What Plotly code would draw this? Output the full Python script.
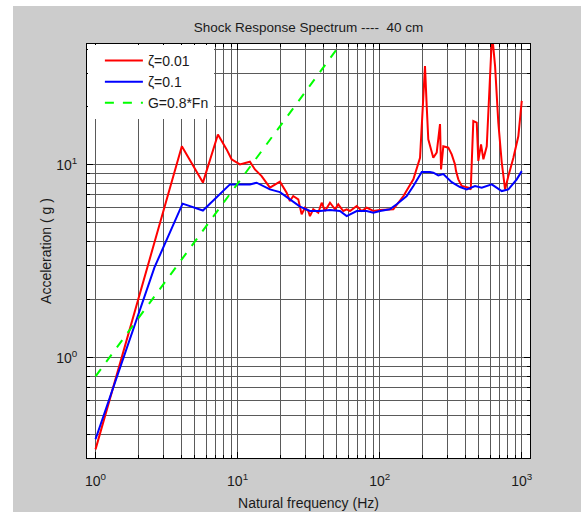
import plotly.graph_objects as go

# Shock response spectrum, 40 cm drop
fn_z001 = [1, 4.05, 5.7, 7.27, 8.37, 9.07, 10.38, 12.21, 13.24, 14.76, 16.88, 19.86,
           22.14, 23.35, 24.63, 26.73, 28.23, 29.78, 31.42, 32.3, 34.07, 36.96, 39.06,
           41.2, 44.7, 48.5, 51.1, 55.4, 58.6, 61.8, 68.9, 74.7, 81.0, 90.2, 100.5,
           111.9, 124.7, 147, 172.6, 192.3, 197.7, 208.4, 214.3, 219.8, 238.4, 251.9,
           265.9, 270.3, 280.5, 304.1, 321.3, 339, 344.6, 357.7, 377.8, 421, 437.5,
           456, 482, 494.6, 516.8, 537, 567, 598, 618, 649, 684, 723, 763, 805, 873,
           946, 1000]
acc_z001 = [0.334, 12.5, 8.1, 14.4, 12.05, 10.7, 10.07, 10.4, 9.48, 8.76, 7.63, 8.19,
            7.18, 6.5, 6.9, 6.63, 5.54, 6.0, 5.77, 5.43, 5.89, 5.65, 6.37,
            5.77, 6.37, 5.89, 6.25, 5.77, 5.89, 5.77, 6.12, 5.77, 6.0, 5.77, 5.84,
            5.89, 5.89, 6.9, 8.42, 10.9, 15.3, 32.6, 20.2, 13.6, 10.9, 11.6,
            16.3, 9.48, 12.5, 12.3, 11.35, 10.07, 9.29, 8.42, 7.78, 7.63, 7.47,
            16.9, 16.6, 10.5, 12.8, 10.7, 12.5, 30.1, 48, 32.6, 16.6, 10.3, 7.47, 8.76, 10.9,
            14.1, 21.5]

fn_z01 = [1, 2.6, 4.1, 5.7, 8.83, 12.21, 13.6, 16.88, 19.86, 23.35, 27.5, 32.3, 38.0,
          44.7, 52.5, 58.6, 68.9, 81.0, 90.2, 100.5, 117.7, 131.8, 155, 172.6, 197.7,
          226, 238.4, 258.6, 280.5, 321.3, 367.6, 410, 469, 522.6, 615, 723, 805, 922,
          1000]
acc_z01 = [0.377, 2.94, 6.3, 5.8, 7.93, 7.93, 8.09, 7.47, 7.23, 6.63, 6.08, 5.77, 5.77,
           5.84, 5.77, 5.43, 5.77, 5.77, 5.65, 5.77, 5.89, 6.25, 6.9, 7.78, 9.19,
           9.19, 9.12, 8.83, 8.97, 8.15, 7.68, 7.47, 7.78, 7.63, 7.93, 7.32, 7.47, 8.42,
           9.29]

# Reference line G = 0.8*Fn
fn_ref = [1, 1000]
acc_ref = [0.8, 800]

decade_x = [1, 10, 100, 1000]
decade_x_text = ["10<sup>0</sup>", "10<sup>1</sup>", "10<sup>2</sup>", "10<sup>3</sup>"]
decade_y = [1, 10]
decade_y_text = ["10<sup>0</sup>", "10<sup>1</sup>"]
minor_x = [m * d for d in [1, 10, 100, 1000] for m in range(2, 10)]
minor_y = [m * d for d in [0.1, 1, 10] for m in range(2, 10)]

FONT = "Liberation Sans, Arial, sans-serif"
GRID = "#5a5a5a"

fig = go.Figure()
fig.add_trace(go.Scatter(x=fn_z001, y=acc_z001, mode="lines", name="ζ=0.01",
                         line=dict(color="#ff0000", width=2)))
fig.add_trace(go.Scatter(x=fn_z01, y=acc_z01, mode="lines", name="ζ=0.1",
                         line=dict(color="#0000ff", width=2)))
fig.add_trace(go.Scatter(x=fn_ref, y=acc_ref, mode="lines", name="G=0.8*Fn",
                         line=dict(color="#00ff00", width=2, dash="dash")))

axis_common = dict(
    type="log", automargin=False,
    showline=True, linecolor="black", linewidth=1, mirror="allticks",
    ticks="inside", ticklen=6, tickcolor="black",
    showgrid=True, gridcolor=GRID, gridwidth=1,
    zeroline=False,
    tickfont=dict(family=FONT, size=14, color="#1a1a1a"),
    title_font=dict(family=FONT, size=14, color="#1a1a1a"),
)

fig.update_xaxes(**axis_common, range=[-0.06, 3.058], ticklabelstandoff=10,
                 tickmode="array", tickvals=decade_x, ticktext=decade_x_text,
                 minor=dict(tickmode="array", tickvals=minor_x, ticks="inside", ticklen=3,
                            tickcolor="black", showgrid=True, gridcolor=GRID, gridwidth=1),
                 title=dict(text="Natural frequency (Hz)", standoff=10))
fig.update_yaxes(**axis_common, range=[-0.521, 1.628], ticklabelstandoff=6,
                 tickmode="array", tickvals=decade_y, ticktext=decade_y_text,
                 minor=dict(tickmode="array", tickvals=minor_y, ticks="inside", ticklen=3,
                            tickcolor="black", showgrid=True, gridcolor=GRID, gridwidth=1),
                 title=dict(text="Acceleration ( g )", standoff=1))

fig.update_layout(
    width=581, height=512,
    margin=dict(l=87, r=51, t=44, b=54),
    paper_bgcolor="#cccccc", plot_bgcolor="white",
    font=dict(family=FONT, size=13, color="#1a1a1a"),
    title=dict(text="Shock Response Spectrum ----\u00a0 40 cm", x=0.531, xanchor="center",
               y=0.947, yanchor="middle", font=dict(family=FONT, size=13.5, color="#1a1a1a")),
    showlegend=True,
    legend=dict(x=0.002, y=0.998, xanchor="left", yanchor="top", bgcolor="white",
                borderwidth=0, font=dict(family=FONT, size=14, color="#1a1a1a"),
                itemwidth=38, tracegroupgap=0,
                indentation=12),
    shapes=[
        dict(type="rect", xref="paper", yref="paper", x0=-87 / 443, x1=-74 / 443,
             y0=-0.2, y1=1.2, fillcolor="white", line=dict(width=0), layer="below"),
        dict(type="rect", xref="paper", yref="paper", x0=-0.3, x1=1.2,
             y0=452 / 414, y1=460 / 414, fillcolor="white", line=dict(width=0), layer="below"),
    ],
)

fig.write_html("out.html")
